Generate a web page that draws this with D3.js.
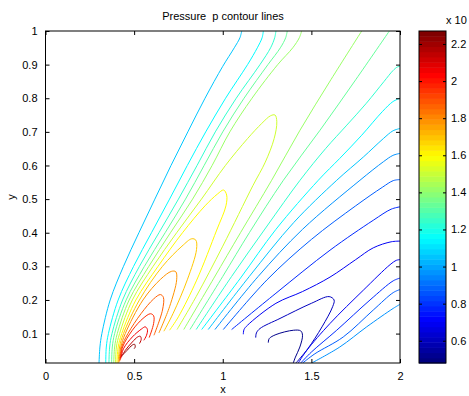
<!DOCTYPE html>
<html>
<head>
<meta charset="utf-8">
<script src="https://cdn.jsdelivr.net/npm/d3@7"></script>
<style>
  body { margin: 0; background: #fff; }
  svg { display: block; font-family: "Liberation Sans", Arial, sans-serif; }
</style>
</head>
<body>
<svg id="chart" width="469" height="396"></svg>
<script>
// tick values
const xTicks = [0, 0.5, 1, 1.5, 2]
const yTicks = [0.1, 0.2, 0.3, 0.4, 0.5, 0.6, 0.7, 0.8, 0.9, 1]
const cbTicks = [0.6, 0.8, 1, 1.2, 1.4, 1.6, 1.8, 2, 2.2]
const pRange = [0.48, 2.27]

// open lines from the bottom edge (left of the nose) to the top edge
const leftLines = [
  [1.052, [[0.302,0.0125],[0.307,0.06],[0.318,0.1],[0.365,0.2],[0.44,0.3],[0.527,0.4],[0.617,0.5],[0.708,0.6],[0.803,0.7],[0.9,0.8],[1.0,0.895],[1.065,0.95],[1.097,0.98],[1.107,1.0]]],
  [1.144, [[0.340,0.0125],[0.343,0.06],[0.355,0.1],[0.41,0.2],[0.497,0.3],[0.598,0.4],[0.70,0.5],[0.80,0.6],[0.904,0.7],[1.016,0.8],[1.14,0.9],[1.195,0.95],[1.222,0.98],[1.229,1.0]]],
  [1.236, [[0.358,0.0125],[0.362,0.06],[0.375,0.1],[0.435,0.2],[0.53,0.3],[0.64,0.4],[0.75,0.5],[0.855,0.6],[0.958,0.7],[1.076,0.8],[1.21,0.9],[1.27,0.95],[1.293,0.98],[1.30,1.0]]],
  [1.328, [[0.373,0.0125],[0.377,0.06],[0.39,0.1],[0.455,0.2],[0.558,0.3],[0.675,0.4],[0.79,0.5],[0.895,0.6],[1.0,0.7],[1.12,0.8],[1.255,0.9],[1.325,0.95],[1.355,0.98],[1.364,1.0]]],
  [1.42, [[0.385,0.0125],[0.39,0.06],[0.405,0.1],[0.472,0.2],[0.583,0.3],[0.705,0.4],[0.83,0.5],[0.94,0.6],[1.04,0.7],[1.165,0.8],[1.31,0.9],[1.395,0.95],[1.432,0.98],[1.445,1.0]]]
]

// closed loops around the nose, ending on the body
const noseLoops = [
  [1.512, [[0.395,0.0125],[0.40,0.06],[0.418,0.1],[0.49,0.2],[0.607,0.3],[0.74,0.4],[0.88,0.5],[1.015,0.6],[1.14,0.68],[1.22,0.725],[1.27,0.748],[1.295,0.75],[1.305,0.73],[1.29,0.68],[1.24,0.61],[1.17,0.54],[1.0,0.36],[0.85,0.21],[0.742,0.112]]],
  [1.604, [[0.403,0.0125],[0.41,0.06],[0.43,0.1],[0.51,0.2],[0.635,0.3],[0.773,0.4],[0.90,0.48],[0.97,0.515],[1.005,0.527],[1.022,0.512],[1.018,0.48],[0.966,0.408],[0.853,0.259],[0.75,0.15],[0.70,0.11]]],
  [1.696, [[0.41,0.0125],[0.418,0.06],[0.44,0.1],[0.53,0.2],[0.66,0.3],[0.77,0.36],[0.825,0.382],[0.848,0.378],[0.852,0.35],[0.80,0.26],[0.72,0.16],[0.668,0.107]]],
  [1.788, [[0.415,0.015],[0.425,0.06],[0.45,0.1],[0.55,0.2],[0.65,0.262],[0.71,0.285],[0.735,0.284],[0.74,0.26],[0.70,0.18],[0.64,0.102]]],
  [1.88, [[0.419,0.018],[0.43,0.06],[0.465,0.1],[0.54,0.16],[0.61,0.203],[0.648,0.216],[0.665,0.208],[0.66,0.17],[0.612,0.095]]],
  [1.972, [[0.422,0.022],[0.435,0.06],[0.49,0.11],[0.55,0.145],[0.592,0.159],[0.61,0.153],[0.61,0.13],[0.585,0.088]]],
  [2.064, [[0.425,0.026],[0.44,0.055],[0.49,0.09],[0.54,0.113],[0.563,0.12],[0.575,0.112],[0.57,0.095],[0.555,0.08]]],
  [2.156, [[0.428,0.03],[0.45,0.05],[0.49,0.075],[0.52,0.09],[0.535,0.092],[0.54,0.083],[0.53,0.07]]],
  [2.248, [[0.432,0.035],[0.46,0.05],[0.49,0.066],[0.503,0.068],[0.506,0.06],[0.50,0.055]]]
]

// lines from the body surface up to the top or right edge
const bodyLines = [
  [1.42, [[0.78,0.112],[0.95,0.265],[1.1,0.4],[1.276,0.556],[1.436,0.705],[1.61,0.855],[1.784,1.0]]],
  [1.328, [[0.815,0.112],[1.0,0.27],[1.15,0.4],[1.342,0.556],[1.549,0.705],[1.75,0.855],[1.94,1.0]]],
  [1.236, [[0.85,0.112],[1.05,0.27],[1.25,0.42],[1.436,0.556],[1.58,0.65],[1.70,0.72],[1.81,0.785],[1.91,0.85],[1.96,0.882],[1.985,0.893],[2,0.895]]],
  [1.144, [[0.881,0.112],[1.1,0.265],[1.3,0.41],[1.539,0.556],[1.66,0.621],[1.784,0.69],[1.9,0.76],[1.96,0.79],[2,0.80]]],
  [1.052, [[0.918,0.112],[1.15,0.27],[1.4,0.43],[1.643,0.556],[1.793,0.625],[1.906,0.68],[1.96,0.703],[2,0.71]]],
  [0.96, [[0.956,0.112],[1.2,0.27],[1.45,0.41],[1.774,0.556],[1.906,0.611],[1.96,0.63],[2,0.636]]],
  [0.868, [[1.003,0.112],[1.25,0.26],[1.5,0.38],[1.75,0.48],[1.9,0.535],[1.962,0.555],[2,0.558]]],
  [0.776, [[1.05,0.112],[1.3,0.22],[1.605,0.348],[1.849,0.437],[1.95,0.47],[2,0.477]]],
  [0.684, [[1.116,0.098],[1.12,0.112],[1.14,0.125],[1.3,0.19],[1.45,0.225],[1.605,0.268],[1.75,0.32],[1.849,0.355],[1.95,0.373],[2,0.375]]]
]

// low pressure region behind the body
const wakeLines = [
  [0.592, [[1.186,0.088],[1.19,0.102],[1.21,0.115],[1.323,0.145],[1.5,0.19],[1.6,0.21],[1.628,0.2],[1.62,0.18],[1.56,0.12],[1.48,0.055],[1.413,0.0125]]],
  [0.5, [[1.257,0.073],[1.262,0.085],[1.3,0.097],[1.4,0.11],[1.44,0.108],[1.45,0.095],[1.435,0.06],[1.41,0.03],[1.398,0.0125]]],
  [0.684, [[1.426,0.0125],[1.474,0.05],[1.605,0.13],[1.793,0.229],[1.944,0.305],[1.98,0.318],[2,0.32]]],
  [0.776, [[1.44,0.0125],[1.50,0.045],[1.643,0.11],[1.831,0.2],[1.962,0.257],[2,0.265]]],
  [0.868, [[1.451,0.0125],[1.52,0.04],[1.68,0.09],[1.849,0.17],[1.962,0.222],[2,0.231]]],
  [0.96, [[1.502,0.0125],[1.66,0.06],[1.812,0.12],[1.962,0.175],[2,0.187]]]
]


function jet(t) {
    const c = v => Math.max(0, Math.min(1, v))
    const r = c(1.5 - Math.abs(4 * t - 3))
    const g = c(1.5 - Math.abs(4 * t - 2))
    const b = c(1.5 - Math.abs(4 * t - 1))
    return d3.rgb(r * 255, g * 255, b * 255).formatHex()
}

const margin = { top: 31, left: 45.5, right: 400, bottom: 363 }

const xScale = d3.scaleLinear().domain([0, 2]).range([margin.left, margin.right])
const yScale = d3.scaleLinear().domain([0.0125, 1]).range([margin.bottom, margin.top])
const cScale = d3.scaleLinear().domain(pRange).range([margin.bottom, margin.top])
const colorOf = v => jet((v - pRange[0]) / (pRange[1] - pRange[0]))

const svg = d3.select('#chart')

svg.append('defs').append('clipPath').attr('id', 'plotClip')
    .append('rect')
    .attr('x', margin.left).attr('y', margin.top)
    .attr('width', margin.right - margin.left)
    .attr('height', margin.bottom - margin.top)

const line = d3.line()
    .x(d => xScale(d[0]))
    .y(d => yScale(d[1]))
    .curve(d3.curveCatmullRom.alpha(0.5))

const allLines = leftLines.concat(noseLoops, bodyLines, wakeLines)

svg.append('g').attr('clip-path', 'url(#plotClip)')
    .selectAll('path')
    .data(allLines)
    .enter()
    .append('path')
    .attr('d', d => line(d[1]))
    .attr('fill', 'none')
    .attr('stroke', d => colorOf(d[0]))
    .attr('stroke-width', 1)

// axes, ticks inward like matlab
const xAxis = d3.axisBottom(xScale).tickValues(xTicks).tickSize(-4).tickPadding(9).tickFormat(d3.format('~g'))
const yAxis = d3.axisLeft(yScale).tickValues(yTicks).tickSize(-4).tickPadding(8).tickFormat(d3.format('~g'))

svg.append('g').attr('transform', 'translate(0,' + margin.bottom + ')').call(xAxis)
svg.append('g').attr('transform', 'translate(' + margin.left + ',0)').call(yAxis)
svg.append('g').attr('transform', 'translate(0,' + margin.top + ')')
    .call(d3.axisTop(xScale).tickValues(xTicks).tickSize(-4).tickFormat(''))
svg.append('g').attr('transform', 'translate(' + margin.right + ',0)')
    .call(d3.axisRight(yScale).tickValues(yTicks).tickSize(-4).tickFormat(''))

svg.append('rect')
    .attr('x', margin.left).attr('y', margin.top)
    .attr('width', margin.right - margin.left)
    .attr('height', margin.bottom - margin.top)
    .attr('fill', 'none').attr('stroke', '#000').attr('stroke-width', 1)

svg.append('text').attr('x', 223).attr('y', 20).attr('text-anchor', 'middle')
    .style('font-size', '11px').style('white-space', 'pre').text('Pressure  p contour lines')
svg.append('text').attr('x', 223).attr('y', 393).attr('text-anchor', 'middle')
    .style('font-size', '11px').text('x')
svg.append('text').attr('transform', 'translate(15,197) rotate(-90)').attr('text-anchor', 'middle')
    .style('font-size', '11px').text('y')

// colorbar
const cbX = 419, cbW = 27
const nBands = 64
const bandStep = (pRange[1] - pRange[0]) / nBands
const bands = d3.range(nBands)

svg.append('g').selectAll('rect')
    .data(bands)
    .enter()
    .append('rect')
    .attr('x', cbX)
    .attr('y', i => cScale(pRange[0] + (i + 1) * bandStep))
    .attr('width', cbW)
    .attr('height', i => cScale(pRange[0] + i * bandStep) - cScale(pRange[0] + (i + 1) * bandStep) + 0.5)
    .attr('fill', i => jet(i / (nBands - 1)))

const cAxis = d3.axisRight(cScale).tickValues(cbTicks).tickSize(-3).tickPadding(5).tickFormat(d3.format('~g'))
svg.append('g').attr('transform', 'translate(' + (cbX + cbW) + ',0)').call(cAxis)
svg.append('g').attr('transform', 'translate(' + cbX + ',0)')
    .call(d3.axisLeft(cScale).tickValues(cbTicks).tickSize(-3).tickFormat(''))

svg.selectAll('.domain').remove()
svg.selectAll('.tick line').attr('stroke', '#000')
svg.selectAll('.tick text').style('font-size', '11px').attr('fill', '#000')

svg.append('rect')
    .attr('x', cbX).attr('y', margin.top)
    .attr('width', cbW).attr('height', margin.bottom - margin.top)
    .attr('fill', 'none').attr('stroke', '#000').attr('stroke-width', 1)

svg.append('text').attr('x', 446).attr('y', 24).style('font-size', '11px').text('x 10')
</script>
</body>
</html>
